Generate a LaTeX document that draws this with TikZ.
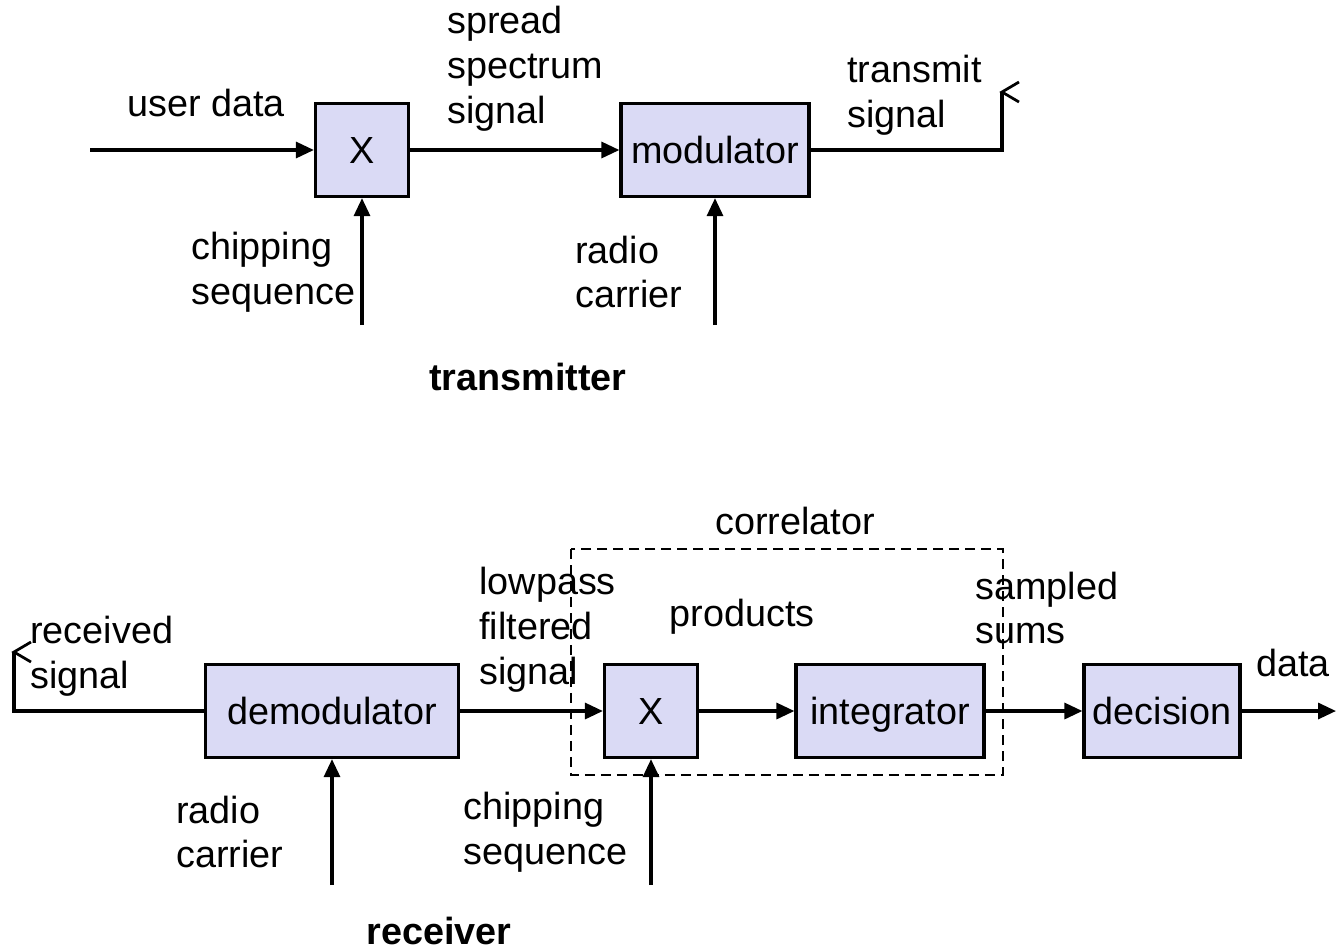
\documentclass[tikz,border=0pt]{standalone}
\usepackage{fontspec}
\setmainfont{Liberation Sans}
\usepackage{xcolor}
\usetikzlibrary{positioning,arrows.meta}
\definecolor{blockfill}{RGB}{218,218,245}

\begin{document}
\begin{tikzpicture}[
    x=0.02cm, y=-0.02cm,
    every node/.style={font=\fontsize{21.5}{25.5}\selectfont},
    block/.style={rectangle, draw, line width=0.065cm, fill=blockfill, minimum height=1.86cm, inner sep=0pt, text height=15.5pt, text depth=0pt},
    label/.style={inner sep=0pt, align=left, anchor=west},
    title/.style={inner sep=0pt, font=\fontsize{21.5}{25.5}\selectfont\bfseries},
    wire/.style={line width=0.065cm},
    arrow/.style={wire, -{Triangle[length=0.36cm,width=0.32cm]}},
    antenna/.style={line width=0.055cm}
]
\useasboundingbox (0,0) rectangle (1337,951);
% transmitter
\node[block, minimum width=1.86cm] (txmix) at (362,150) {X};
\node[block, minimum width=3.76cm] (mod) at (715,150) {modulator};
\coordinate (userin) at (90,150);
\coordinate (txchip) at (362,325);
\coordinate (txcarrier) at (715,325);
\coordinate (txcorner) at (1002,150);
\coordinate (txant) at (1002,92);
\node[label] (userdata) at (127,103) {user data};
\node[label] (spread) at (447,69) {spread\\spectrum\\signal};
\node[label] (txsig) at (847,95) {transmit\\signal};
\node[label] (txchiplbl) at (191,272) {chipping\\sequence};
\node[label] (txcarlbl) at (575,272) {radio\\carrier};
\node[title] (txtitle) at (528,377) {transmitter};
\draw[arrow] (userin) -- (txmix.west);
\draw[arrow] (txmix.east) -- (mod.west);
\draw[arrow] (txchip) -- (txmix.south);
\draw[arrow] (txcarrier) -- (mod.south);
\draw[wire] (mod.east) -- (txcorner) -- (txant);
\draw[antenna] ([shift={(17,-10)}]txant) -- (txant) -- ++(17,10);
% receiver
\node[block, minimum width=5.06cm] (demod) at (332,711) {demodulator};
\node[block, minimum width=1.86cm] (rxmix) at (651,711) {X};
\node[block, minimum width=3.76cm] (integ) at (890,711) {integrator};
\node[block, minimum width=3.12cm] (decide) at (1162,711) {decision};
\coordinate (rxant) at (14,652);
\coordinate (rxcorner) at (14,711);
\coordinate (rxcarrier) at (332,885);
\coordinate (rxchip) at (651,885);
\coordinate (dataout) at (1336,711);
\draw[dashed, line width=0.05cm, dash pattern=on 0.2cm off 0.12cm] (571,549) rectangle (1003,775);
\node[inner sep=0pt] (corrlbl) at (795,521) {correlator};
\node[label] (rxsig) at (30,656) {received\\signal};
\node[label] (lowpass) at (479,630) {lowpass\\filtered\\signal};
\node[inner sep=0pt] (prodlbl) at (742,617) {products};
\node[label] (sampled) at (975,608) {sampled\\sums};
\node[label] (datalbl) at (1256,663) {data};
\node[label] (rxcarlbl) at (176,832) {radio\\carrier};
\node[label] (rxchiplbl) at (463,832) {chipping\\sequence};
\node[title] (rxtitle) at (439,931) {receiver};
\draw[antenna] ([shift={(17,-10)}]rxant) -- (rxant) -- ++(17,10);
\draw[wire] (rxant) -- (rxcorner) -- (demod.west);
\draw[arrow] (demod.east) -- (rxmix.west);
\draw[arrow] (rxmix.east) -- (integ.west);
\draw[arrow] (integ.east) -- (decide.west);
\draw[arrow] (decide.east) -- (dataout);
\draw[arrow] (rxcarrier) -- (demod.south);
\draw[arrow] (rxchip) -- (rxmix.south);
\end{tikzpicture}
\end{document}
